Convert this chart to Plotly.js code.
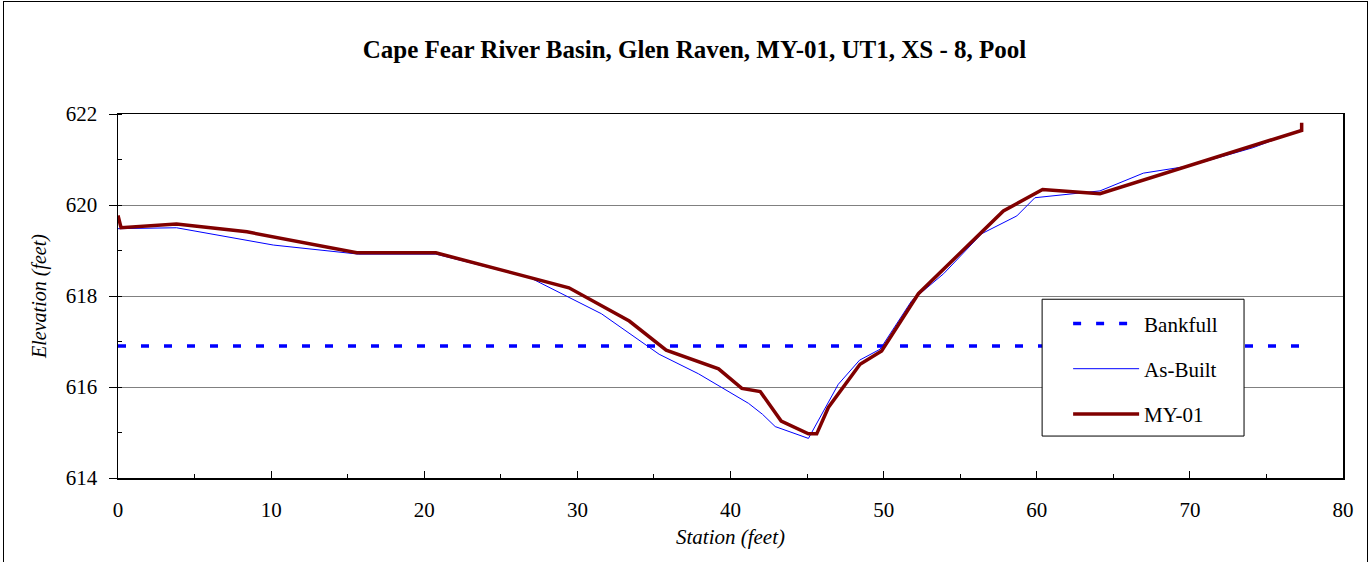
<!DOCTYPE html>
<html><head><meta charset="utf-8">
<script src="https://cdn.plot.ly/plotly-3.0.1.min.js"></script>
<style>html,body{margin:0;padding:0;background:#fff;overflow:hidden}
#wrap{position:relative;width:1371px;height:562px}
#frame{position:absolute;left:3px;top:1px;width:1363px;height:600px;border:1.5px solid #000;pointer-events:none}
</style></head><body>
<div id="wrap"><div id="chart" style="width:1371px;height:562px"></div><div id="frame"></div></div>
<script>
const bankfullX = [0, 77.3];
const bankfullY = [616.9, 616.9];
const asBuiltX = [0, 3.82, 10.14, 15.7, 20.76, 26.92, 31.57, 34.97, 35.34, 37.91, 39.54, 41.18, 42.09, 42.92, 45.09, 47.04, 48.43, 49.77, 51.84, 53.92, 56.41, 58.7, 59.88, 64.13, 66.96, 69.99, 74.13, 77.3];
const asBuiltY = [619.48, 619.5, 619.12, 618.92, 618.92, 618.4, 617.61, 616.81, 616.72, 616.29, 615.97, 615.64, 615.4, 615.13, 614.87, 616.06, 616.59, 616.83, 617.9, 618.49, 619.37, 619.76, 620.16, 620.31, 620.7, 620.86, 621.26, 621.66];
const my01X = [0, 0.2, 3.82, 8.42, 15.6, 20.76, 29.45, 33.39, 35.8, 39.22, 40.74, 41.94, 43.31, 45.09, 45.63, 46.39, 48.46, 49.87, 52.27, 57.82, 60.38, 64.13, 77.3, 77.3];
const my01Y = [619.77, 619.5, 619.58, 619.41, 618.95, 618.95, 618.18, 617.45, 616.81, 616.4, 615.97, 615.9, 615.25, 614.97, 614.97, 615.55, 616.5, 616.79, 618.05, 619.87, 620.34, 620.25, 621.64, 621.81];
const xTicks = [0, 10, 20, 30, 40, 50, 60, 70, 80];
const yTicks = [614, 616, 618, 620, 622];

const font = 'Liberation Serif';
const traces = [
  {x: bankfullX, y: bankfullY, mode: 'lines', name: 'Bankfull', legendgroup: 'a',
   line: {color: '#0000ff', width: 3.5, dash: '8px,15px'}},
  {x: asBuiltX, y: asBuiltY, mode: 'lines', name: 'As-Built', legendgroup: 'b',
   line: {color: '#0000ff', width: 1}},
  {x: my01X, y: my01Y, mode: 'lines', name: 'MY-01', legendgroup: 'c',
   line: {color: '#800000', width: 3.5}}
];
const L = 117.5, R = 1343, T = 113.5, B = 478;
const px = v => (v - L) / (R - L);
const py = v => (B - v) / (B - T);
const layout = {
  width: 1371, height: 562,
  margin: {l: L, r: 1371 - R, t: T, b: 562 - B},
  paper_bgcolor: '#fff', plot_bgcolor: '#fff',
  font: {family: font, size: 20, color: '#000'},
  showlegend: true,
  title: {text: '<b>Cape Fear River Basin, Glen Raven, MY-01, UT1, XS - 8, Pool</b>',
    x: 694.5/1371, xref: 'container', xanchor: 'center', y: 1 - 49/562, yanchor: 'middle',
    font: {family: font, size: 25, color: '#000'}},
  xaxis: {range: [0, 80], tickvals: xTicks, ticks: 'inside', ticklen: 7, tickcolor: '#000',
    showgrid: false, zeroline: false, showline: true, linecolor: '#000', linewidth: 1.5, mirror: true,
    minor: {dtick: 5, ticks: 'inside', ticklen: 4, tickcolor: '#000', showgrid: false},
    tickfont: {family: font, size: 21}, ticklabelstandoff: 12,
    title: {text: '<i>Station (feet)</i>', font: {family: font, size: 21}, standoff: 8}},
  yaxis: {range: [614, 622], tickvals: yTicks, ticks: 'outside', ticklen: 8, tickcolor: '#000',
    showgrid: true, gridcolor: '#808080', gridwidth: 1, zeroline: false,
    showline: true, linecolor: '#000', linewidth: 1.5, mirror: true,
    minor: {dtick: 1, ticks: 'inside', ticklen: 4, tickcolor: '#000', showgrid: false},
    tickfont: {family: font, size: 21}, ticklabelstandoff: 7,
    title: {text: '<i>Elevation (feet)</i>', font: {family: font, size: 20}, standoff: 14}},
  shapes: [{type: 'rect', xref: 'paper', yref: 'paper', layer: 'above',
    x0: px(1042), x1: px(1244), y0: py(436), y1: py(299),
    fillcolor: '#fff', line: {color: '#000', width: 1}}],
  legend: {x: px(1068), xref: 'paper', y: py(303), yref: 'paper', xanchor: 'left', yanchor: 'top',
    bgcolor: 'rgba(0,0,0,0)', borderwidth: 0,
    font: {family: font, size: 21}, tracegroupgap: 15, itemwidth: 66}
};
Plotly.newPlot('chart', traces, layout, {displayModeBar: false, staticPlot: true});
</script></body></html>
